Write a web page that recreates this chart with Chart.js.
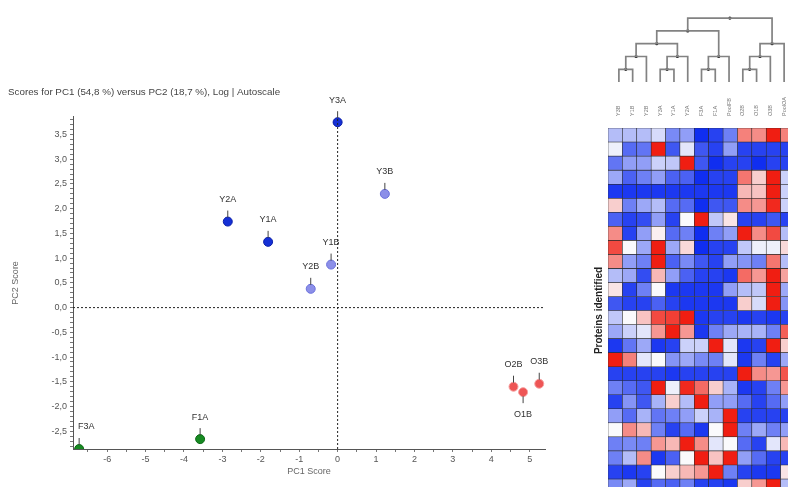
<!DOCTYPE html>
<html>
<head>
<meta charset="utf-8">
<script src="https://cdn.jsdelivr.net/npm/chart.js@4.4.1/dist/chart.umd.min.js"></script>
<style>
  html, body { margin: 0; padding: 0; background: #fff; overflow: hidden; width: 788px; height: 487px; }
  .box { position: absolute; }
  #scoreBox { left: 0; top: 0; width: 592px; height: 487px; }
  #treeBox { left: 608px; top: 0; width: 187px; height: 128px; }
  #heatBox { left: 590px; top: 128px; width: 205px; height: 365px; }
</style>
</head>
<body>
<div class="box" id="scoreBox"><canvas id="scoreChart"></canvas></div>
<div class="box" id="treeBox"><canvas id="treeChart"></canvas></div>
<div class="box" id="heatBox"><canvas id="heatChart"></canvas></div>
<script>
// ---- PCA scores ----
const sampleNames = ["Y1A", "Y2A", "Y3A", "Y1B", "Y2B", "Y3B", "F1A", "F3A", "O1B", "O2B", "O3B"];
const sampleGroups = ["YA", "YA", "YA", "YB", "YB", "YB", "F", "F", "O", "O", "O"];
const pc1Scores = [-1.81, -2.86, 0.0, -0.17, -0.70, 1.23, -3.58, -6.73, 4.83, 4.58, 5.25];
const pc2Scores = [1.33, 1.74, 3.75, 0.87, 0.38, 2.30, -2.66, -2.86, -1.71, -1.60, -1.54];
const tagsBelow = ["O1B"];

// axis limits (PC1 / PC2)
const xRange = [-6.89, 5.4];
const yRange = [-2.86, 3.86];

// ---- heatmap ----
const heatCols = ["Y3B", "Y1B", "Y2B", "Y3A", "Y1A", "Y2A", "F3A", "F1A", "PoolFB", "O2B", "O1B", "O3B", "PoolOA"];
const heatRows = [
  [-0.3, -0.3, -0.3, -0.15, -0.55, -0.45, -1, -0.9, -0.6, 0.55, 0.5, 1, 0.55],
  [-0.05, -0.7, -0.65, 1, -0.8, -0.1, -0.8, -0.9, -0.45, -0.9, -0.9, -0.9, -0.9],
  [-0.65, -0.45, -0.45, -0.2, -0.25, 1, -0.8, -1, -0.9, -0.9, -1, -0.9, -0.9],
  [-0.4, -0.75, -0.6, -0.45, -0.75, -0.75, -1, -0.9, -0.9, 0.6, 0.2, 1, -0.2],
  [-0.95, -0.95, -0.95, -0.95, -0.95, -0.95, -0.95, -0.95, -0.95, 0.3, 0.25, 1, -0.2],
  [0.2, -0.6, -0.4, -0.3, -0.7, -0.7, -1, -0.8, -0.8, 0.5, 0.45, 0.95, -0.2],
  [-0.75, -0.9, -0.85, -0.45, -0.9, 0, 1, -0.25, 0.1, -0.9, -0.9, -0.8, -0.9],
  [0.5, -0.9, -0.45, 0.05, -0.7, -0.6, -1, -0.6, -0.45, 1, 0.5, 0.8, -0.3],
  [0.8, 0, -0.4, 1, -0.4, 0.15, -1, -0.9, -0.9, -0.25, -0.05, -0.05, 0.15],
  [0.5, -0.45, -0.6, 1, -0.75, -0.55, -0.8, -0.9, -0.45, -0.5, -0.6, 0.6, -0.3],
  [-0.3, -0.4, -0.85, 0.3, -0.45, -0.75, -0.9, -0.9, -0.95, 0.65, 0.45, 1, 0.4],
  [0.1, -0.9, -0.6, 0, -0.95, -0.95, -0.95, -0.95, -0.45, -0.3, -0.25, 1, -0.4],
  [-0.8, -0.9, -0.9, -0.75, -0.9, -0.95, -0.95, -0.95, -0.95, 0.2, -0.15, 1, -0.5],
  [-0.25, 0, 0.25, 0.8, 0.85, 1, -0.95, -0.9, -0.9, -0.95, -0.9, -0.95, -0.9],
  [-0.4, -0.2, -0.1, 0.45, 1, 0.45, -0.95, -0.6, -0.4, -0.35, -0.35, -0.6, 0.7],
  [-0.95, -0.65, -0.4, -0.95, -0.9, -0.2, -0.2, 1, -0.1, -0.95, -0.9, 1, 0.2],
  [1, 0.55, -0.1, 0, -0.5, -0.4, -0.55, -0.6, -0.1, -0.95, -0.6, -0.9, -0.4],
  [-0.9, -0.9, -0.9, -0.9, -0.95, -0.9, -0.9, -0.9, -0.9, 1, 0.5, 0.45, 0.75],
  [-0.6, -0.7, -0.8, 1, -0.05, 0.95, 0.65, 0.2, -0.35, -0.95, -0.9, -0.6, 0.45],
  [-0.9, -0.5, -0.8, -0.35, 0.2, -0.3, 1, -0.45, -0.45, -0.7, -0.9, -0.7, -0.45],
  [-0.45, -0.7, -0.35, -0.65, -0.6, -0.45, -0.2, -0.35, 1, -0.9, -0.9, -0.9, -0.9],
  [0, 0.5, 0.3, -0.6, -0.9, -0.7, -0.95, 0, 1, -0.6, -0.4, -0.6, -0.45],
  [-0.6, -0.55, -0.6, 0.45, 0.3, 1, 0.5, -0.1, 0, -0.7, -0.9, -0.1, 0.3],
  [-0.6, -0.3, 0.5, -0.95, -0.75, 0, 1, 0.25, 1, -0.45, -0.7, -0.9, -0.9],
  [-0.9, -0.95, -0.9, 0, 0.2, 0.3, 0.45, 1, -0.6, -0.9, -0.95, -0.95, 0.1],
  [-0.55, -0.4, -0.9, -0.7, -0.75, -0.6, -0.9, -0.9, -0.95, 0.2, 0.45, 1, -0.3],
];

// dendrogram merges: [left node, right node, level]; leaves are 0..12, new nodes from 13
const treeMerges = [
  [0, 1, 1], [13, 2, 2], [3, 4, 1], [15, 5, 2], [14, 16, 3],
  [6, 7, 1], [18, 8, 2], [17, 19, 4],
  [9, 10, 1], [21, 11, 2], [22, 12, 3],
  [20, 23, 5],
];

const groupStyle = {
  YA: { fill: "#1530d6", line: "#0b1ea8" },
  YB: { fill: "#8c8fe8", line: "#6a70dc" },
  F: { fill: "#178a22", line: "#0c6a16" },
  O: { fill: "#ee5555", line: "#f6a0a0" },
};

const tickFont = { family: "Arial, 'Liberation Sans', sans-serif", size: 9 };

function fmtComma(v, digits) {
  const r = Math.round(v * 10) / 10;
  return r.toFixed(digits).replace(".", ",");
}

function heatColor(v) {
  const t = Math.min(1, Math.abs(v));
  const end = v < 0 ? [16, 46, 240] : [240, 30, 18];
  const w = [250, 250, 252];
  return "rgb(" + w.map((c, i) => Math.round(c + (end[i] - c) * t)).join(",") + ")";
}

// ---- score plot ----
const groupDatasets = Object.keys(groupStyle).map((g) => {
  const idx = sampleNames.map((n, i) => i).filter((i) => sampleGroups[i] === g);
  return {
    names: idx.map((i) => sampleNames[i]),
    data: idx.map((i) => ({ x: pc1Scores[i], y: pc2Scores[i] })),
    backgroundColor: groupStyle[g].fill,
    borderColor: groupStyle[g].line,
    borderWidth: 1,
    pointRadius: 4.5,
  };
});

const refLine = {
  showLine: true,
  borderColor: "#222",
  borderWidth: 1,
  borderDash: [2, 2],
  pointRadius: 0,
};

const tagPlugin = {
  id: "sampleTags",
  afterDatasetsDraw(chart) {
    const ctx = chart.ctx;
    const area = chart.chartArea;
    ctx.save();
    ctx.font = "9px Arial, 'Liberation Sans', sans-serif";
    ctx.fillStyle = "#333";
    ctx.strokeStyle = "#444";
    ctx.lineWidth = 1;
    ctx.textAlign = "center";
    ctx.textBaseline = "middle";
    chart.data.datasets.forEach((ds, di) => {
      if (!ds.names) return;
      chart.getDatasetMeta(di).data.forEach((pt, i) => {
        const name = ds.names[i];
        const dir = tagsBelow.includes(name) ? 1 : -1;
        ctx.beginPath();
        ctx.moveTo(pt.x, pt.y + dir * 4);
        ctx.lineTo(pt.x, pt.y + dir * 11);
        ctx.stroke();
        const w = ctx.measureText(name).width;
        const tx = Math.max(pt.x, area.left + w / 2 + 5);
        ctx.fillText(name, tx, pt.y + dir * 22);
      });
    });
    ctx.restore();
  },
};

new Chart(document.getElementById("scoreChart"), {
  type: "scatter",
  data: {
    datasets: [
      { ...refLine, data: [{ x: 0, y: yRange[0] }, { x: 0, y: yRange[1] }] },
      { ...refLine, data: [{ x: xRange[0], y: 0 }, { x: xRange[1], y: 0 }] },
      ...groupDatasets,
    ],
  },
  options: {
    responsive: true,
    maintainAspectRatio: false,
    animation: false,
    layout: { padding: { left: 8, right: 47, top: 0, bottom: 0 } },
    plugins: {
      legend: { display: false },
      tooltip: { enabled: false },
      title: {
        display: true,
        text: "Scores for PC1 (54,8 %) versus PC2 (18,7 %), Log | Autoscale",
        align: "start",
        color: "#444",
        font: { ...tickFont, size: 9.8, weight: "normal" },
        padding: { top: 86, bottom: 19 },
      },
    },
    scales: {
      x: {
        type: "linear",
        min: xRange[0],
        max: xRange[1],
        afterFit: (scale) => { scale.height = 38; },
        grid: { drawOnChartArea: false, tickLength: 3, color: "#777" },
        border: { color: "#555" },
        ticks: {
          stepSize: 0.5,
          autoSkip: false,
          includeBounds: false,
          maxRotation: 0,
          color: "#555",
          font: tickFont,
          padding: 2,
          callback: (v) => (Math.abs(v - Math.round(v)) < 1e-6 ? String(Math.round(v)) : ""),
        },
        title: { display: true, text: "PC1 Score", color: "#666", font: tickFont, padding: { top: 0, bottom: 10 } },
      },
      y: {
        type: "linear",
        min: yRange[0],
        max: yRange[1],
        afterFit: (scale) => { scale.width = 65; },
        grid: { drawOnChartArea: false, tickLength: 3, color: "#777" },
        border: { color: "#555" },
        ticks: {
          stepSize: 0.1,
          autoSkip: false,
          includeBounds: false,
          color: "#555",
          font: tickFont,
          padding: 3,
          callback: (v) => (Math.abs(v * 2 - Math.round(v * 2)) < 1e-6 ? fmtComma(v, 1) : ""),
        },
        title: { display: true, text: "PC2 Score", color: "#666", font: tickFont, padding: { top: 2, bottom: 0 } },
      },
    },
  },
  plugins: [tagPlugin],
});

// ---- dendrogram ----
const nodeX = heatCols.map((c, i) => i + 0.5);
const nodeH = heatCols.map(() => 0);
const treeDatasets = [];
const treeDots = [];
treeMerges.forEach(([a, b, h]) => {
  treeDatasets.push({
    data: [
      { x: nodeX[a], y: nodeH[a] },
      { x: nodeX[a], y: h },
      { x: nodeX[b], y: h },
      { x: nodeX[b], y: nodeH[b] },
    ],
    showLine: true,
    borderColor: "#828282",
    borderWidth: 1.7,
    pointRadius: 0,
  });
  nodeX.push((nodeX[a] + nodeX[b]) / 2);
  nodeH.push(h);
  treeDots.push({ x: nodeX[nodeX.length - 1], y: h });
});

const colLabelPlugin = {
  id: "colLabels",
  afterDraw(chart) {
    const ctx = chart.ctx;
    const xs = chart.scales.x;
    ctx.save();
    ctx.font = "5.5px Arial, 'Liberation Sans', sans-serif";
    ctx.fillStyle = "#777";
    ctx.textAlign = "left";
    ctx.textBaseline = "middle";
    heatCols.forEach((name, i) => {
      ctx.save();
      ctx.translate(xs.getPixelForValue(i + 0.5), chart.chartArea.bottom - 8);
      ctx.rotate(-Math.PI / 2);
      ctx.fillText(name, 0, 0);
      ctx.restore();
    });
    ctx.restore();
  },
};

new Chart(document.getElementById("treeChart"), {
  type: "scatter",
  data: {
    datasets: [
      ...treeDatasets,
      { data: treeDots, pointRadius: 1.6, backgroundColor: "#111", borderWidth: 0 },
    ],
  },
  options: {
    responsive: true,
    maintainAspectRatio: false,
    animation: false,
    layout: { padding: 0 },
    plugins: { legend: { display: false }, tooltip: { enabled: false } },
    scales: {
      x: { type: "linear", min: 0, max: heatCols.length, display: false },
      y: { type: "linear", min: -3.27, max: 6.1, display: false },
    },
  },
  plugins: [colLabelPlugin],
});

// ---- heatmap ----
new Chart(document.getElementById("heatChart"), {
  type: "bar",
  data: {
    labels: heatCols,
    datasets: heatRows.map((row, r) => ({
      data: row.map(() => [r, r + 1]),
      backgroundColor: row.map(heatColor),
      borderColor: "#2b2b2b",
      borderWidth: 0.6,
      borderSkipped: false,
      grouped: false,
      barPercentage: 1,
      categoryPercentage: 1,
    })),
  },
  options: {
    responsive: true,
    maintainAspectRatio: false,
    animation: false,
    layout: { padding: 0 },
    plugins: { legend: { display: false }, tooltip: { enabled: false } },
    scales: {
      x: { display: false },
      y: {
        min: 0,
        max: heatRows.length,
        reverse: true,
        afterFit: (scale) => { scale.width = 18; },
        grid: { display: false },
        border: { display: false },
        ticks: { display: false },
        title: {
          display: true,
          text: "Proteins identified",
          color: "#222",
          font: { family: "Arial, 'Liberation Sans', sans-serif", size: 10, weight: "bold" },
          padding: { top: 3, bottom: 0 },
        },
      },
    },
  },
});
</script>
</body>
</html>
